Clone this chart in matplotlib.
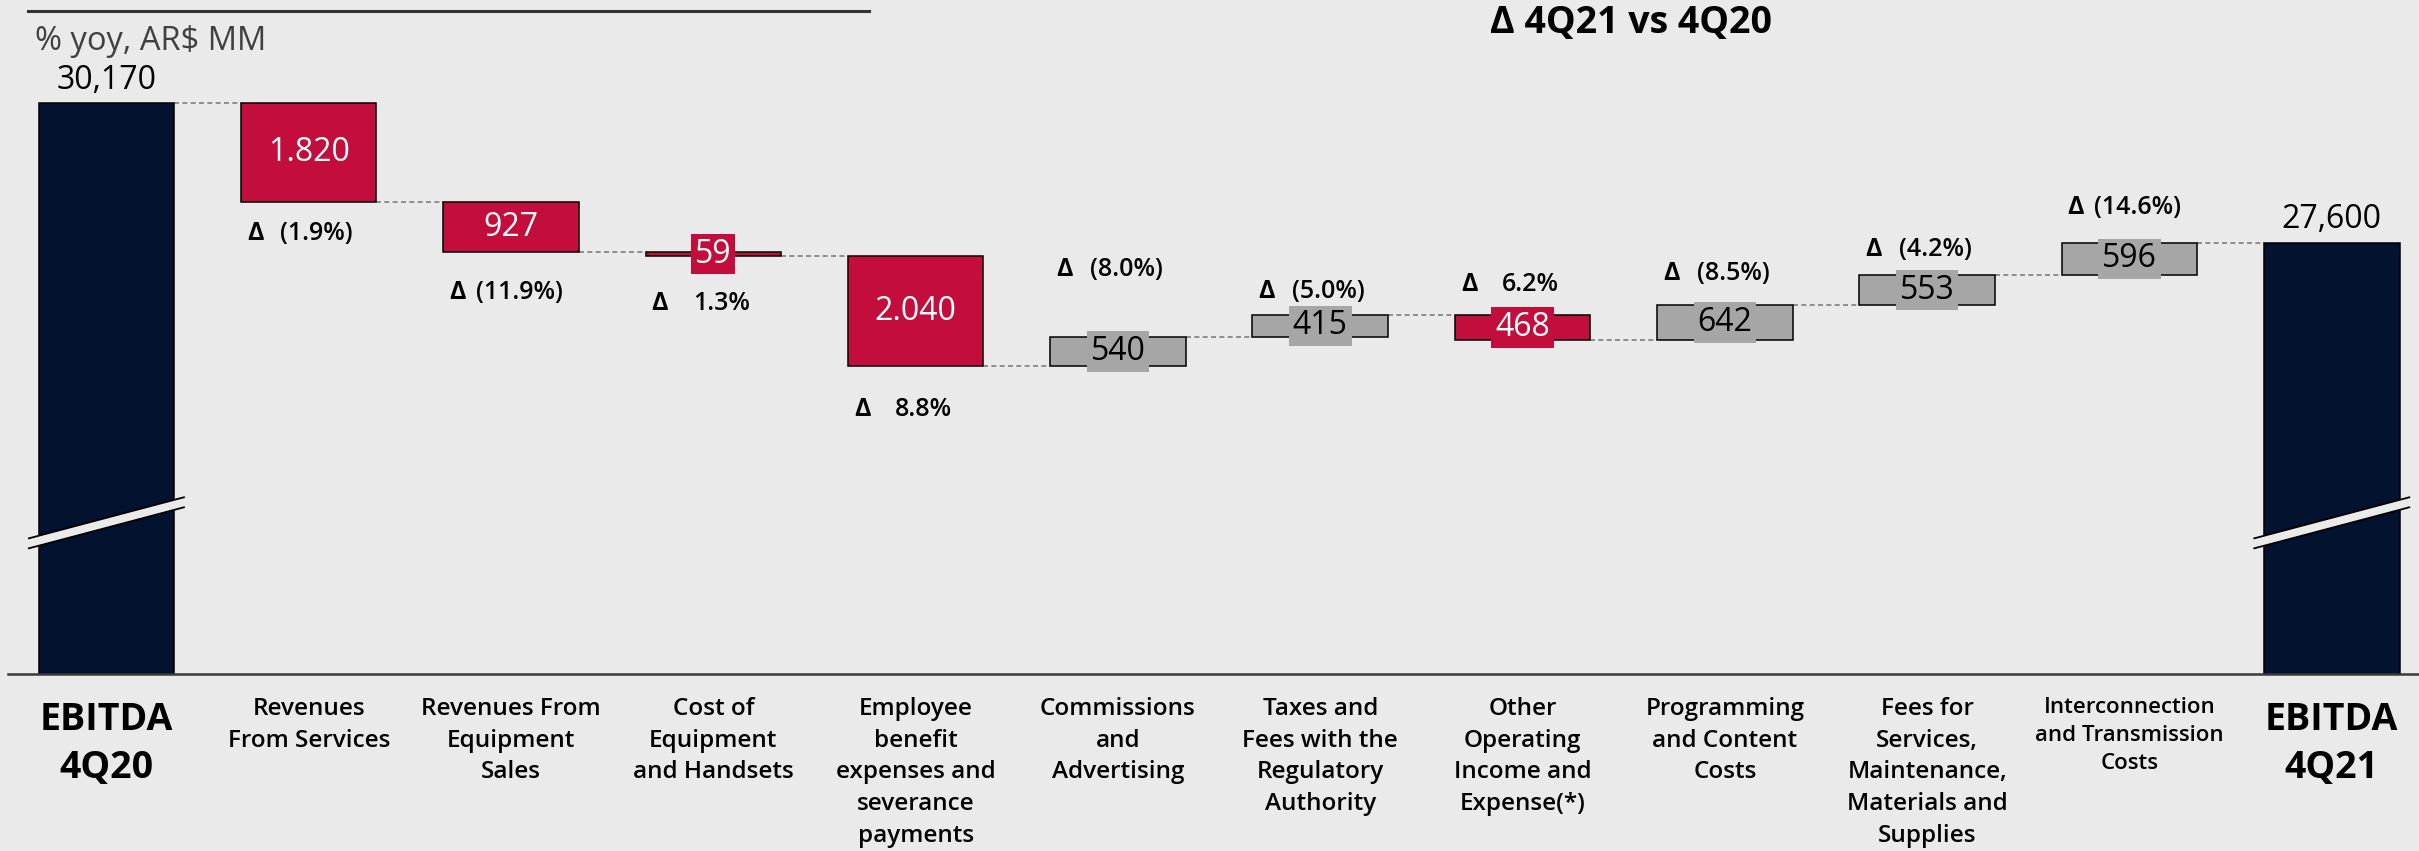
import numpy as np
import matplotlib.pyplot as plt
from matplotlib.lines import Line2D
from matplotlib.patches import Polygon

# EBITDA bridge 4Q20 -> 4Q21, AR$ MM
start_label = "EBITDA\n4Q20"
end_label = "EBITDA\n4Q21"
start_value = 30170
end_value = 27600

steps = [
    "Revenues\nFrom Services",
    "Revenues From\nEquipment\nSales",
    "Cost of\nEquipment\nand Handsets",
    "Employee\nbenefit\nexpenses and\nseverance\npayments",
    "Commissions\nand\nAdvertising",
    "Taxes and\nFees with the\nRegulatory\nAuthority",
    "Other\nOperating\nIncome and\nExpense(*)",
    "Programming\nand Content\nCosts",
    "Fees for\nServices,\nMaintenance,\nMaterials and\nSupplies",
    "Interconnection\nand Transmission\nCosts",
]
deltas = [-1820, -927, -59, -2040, 540, 415, -468, 642, 553, 596]
yoy = ["(1.9%)", "(11.9%)", "1.3%", "8.8%", "(8.0%)", "(5.0%)", "6.2%", "(8.5%)", "(4.2%)", "(14.6%)"]

# where the yoy tag sits: pixels from the bar edge (+ above top, - below bottom)
yoy_offset = [-31, -40, -48, -43, 68, 23, 30, 32, 26, 35]

NAVY = "#02122f"
RED = "#c30d3d"
GREY = "#a6a6a6"
BG = "#eaeaea"
FONT = ["Open Sans", "DejaVu Sans"]

base = 19658          # value at the (broken) baseline
top = 32074
width = 0.67

fig = plt.figure(figsize=(24.19, 8.51), dpi=100, facecolor=BG)
ax = fig.add_axes([0, 0.208, 1, 0.792])
ax.set_facecolor(BG)
ax.set_xlim(-0.526, 11.431)
ax.set_ylim(base, top)
ax.axis("off")

n = len(deltas)
xs = np.arange(n + 2)
levels = np.concatenate([[start_value], start_value + np.cumsum(deltas)])

# total bars
for x, v in [(0, start_value), (n + 1, end_value)]:
    ax.bar(x, v - base, bottom=base, width=width, color=NAVY, edgecolor="black", linewidth=1.1, zorder=2)
    ax.annotate(f"{v:,}", (x, v), xytext=(0, 23), textcoords="offset pixels",
                ha="center", va="center", fontsize=23, family=FONT, color="black")
    # axis break marks
    bx = np.array([x - 0.383, x + 0.383])
    by = np.array([22443 - 378, 22443 + 378])
    gap = 184
    poly = Polygon([(bx[0], by[0] - gap / 2), (bx[1], by[1] - gap / 2),
                    (bx[1], by[1] + gap / 2), (bx[0], by[0] + gap / 2)],
                   closed=True, facecolor=BG, edgecolor="none", zorder=3, clip_on=False)
    ax.add_patch(poly)
    ax.plot(bx, by + gap / 2, color="black", lw=1.3, zorder=4, clip_on=False)
    ax.plot(bx, by - gap / 2, color="black", lw=1.3, zorder=4, clip_on=False)

# step bars
for i, d in enumerate(deltas):
    x = i + 1
    lo = min(levels[i], levels[i + 1])
    col = RED if d < 0 else GREY
    ax.bar(x, abs(d), bottom=lo, width=width, color=col, edgecolor="black", linewidth=1.1, zorder=2)
    txt = f"{abs(d):,}".replace(",", ".")
    ax.text(x, lo + abs(d) / 2, txt, ha="center", va="center", fontsize=23, family=FONT,
            color="white" if d < 0 else "black", zorder=5,
            bbox=dict(boxstyle="square,pad=0.12", facecolor=col, edgecolor="none"))
    off = yoy_offset[i]
    yref = lo + abs(d) if off > 0 else lo
    ax.annotate("Δ", (x - width / 2, yref), xytext=(6, off), textcoords="offset pixels",
                ha="left", va="center", fontsize=18, family=FONT, fontweight="bold")
    ax.annotate(yoy[i], (x, yref), xytext=(8, off), textcoords="offset pixels",
                ha="center", va="center", fontsize=18, family=FONT, fontweight="semibold")

# dashed connectors between consecutive bars
tops = np.concatenate([levels, [end_value]])
for i in range(n + 1):
    ax.plot([xs[i] + width / 2, xs[i + 1] - width / 2], [tops[i], tops[i]],
            color="#7f7f7f", lw=1.2, ls=(0, (3, 2)), zorder=1)

# baseline
ax.axhline(base, xmin=8 / 2419, xmax=1, color="#3a3a3a", lw=1.8, clip_on=False, zorder=6)

# category labels
labels = [start_label] + steps + [end_label]
for x, lab in zip(xs, labels):
    if lab.startswith("EBITDA"):
        ax.annotate(lab, (x, base), xytext=(0, -27), textcoords="offset pixels", ha="center", va="top",
                    fontsize=27, family=FONT, fontweight="bold", linespacing=1.35)
    else:
        size = 16 if lab.startswith("Interconnection") else 17.5
        ax.annotate(lab, (x, base), xytext=(0, -23), textcoords="offset pixels", ha="center", va="top",
                    fontsize=size, family=FONT, fontweight="semibold", linespacing=1.43)

# header
fig.add_artist(Line2D([28 / 2419, 869 / 2419], [1 - 11 / 851] * 2, color="#333333", lw=2.2))
fig.text(35 / 2419, 1 - 41 / 851, "% yoy, AR$ MM", ha="left", va="center", fontsize=23.5,
         family=FONT, color="#404040")
fig.text(1631 / 2419, 1 - 23 / 851, "Δ 4Q21 vs 4Q20", ha="center", va="center", fontsize=27,
         family=FONT, fontweight="bold")

fig.savefig("out.png", dpi=100, facecolor=BG)
